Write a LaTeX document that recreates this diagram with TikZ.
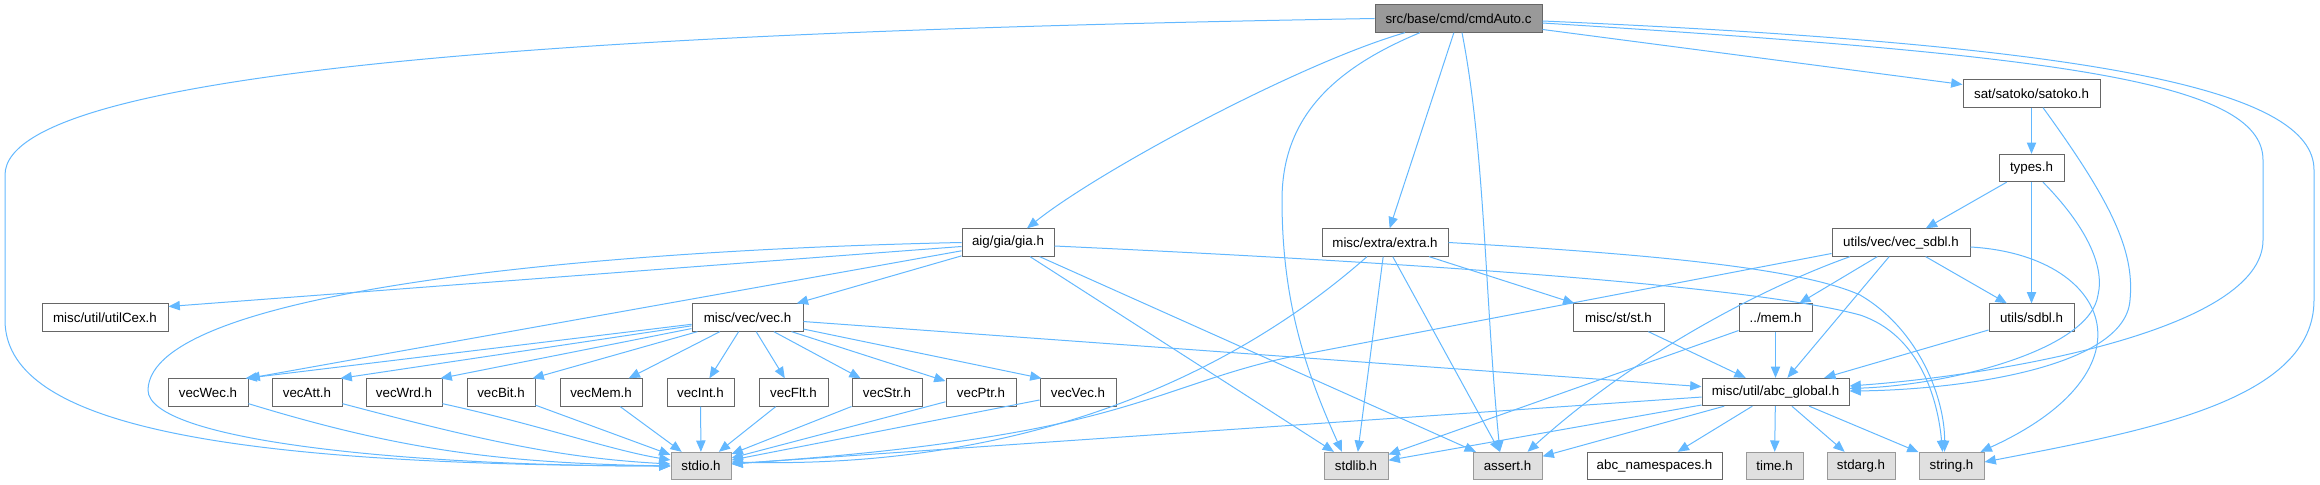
\documentclass[tikz,border=0pt]{standalone}
\usepackage{fontspec}
\setmainfont{Liberation Sans}
\usetikzlibrary{arrows.meta,calc}
\definecolor{edgec}{HTML}{63B8FF}
\definecolor{bordc}{HTML}{666666}
\definecolor{leafb}{HTML}{999999}
\definecolor{leaff}{HTML}{E0E0E0}
\definecolor{rootf}{HTML}{999999}
\begin{document}
\begin{tikzpicture}[x=0.75pt,y=-0.75pt,
  box/.style={draw=bordc, fill=white, line width=0.75pt, inner sep=0pt, minimum height=20.5pt, font=\fontsize{10}{12}\selectfont, text=black},
  leafbox/.style={box, draw=leafb, fill=leaff},
  rootbox/.style={box, fill=rootf},
  dep/.style={draw=edgec, line width=0.75pt, -{Triangle[length=8.5pt,width=7pt]}}]
\useasboundingbox (0,0) rectangle (2320,485);
% nodes
\node[rootbox, minimum width=125.25pt] (root) at (1458.5,18.5) {src/base/cmd/cmdAuto.c};
\node[box, minimum width=102.75pt] (satoko) at (2031.5,93.5) {sat/satoko/satoko.h};
\node[box, minimum width=48.75pt] (types) at (2031.5,168) {types.h};
\node[box, minimum width=69pt] (gia) at (1008,242.5) {aig/gia/gia.h};
\node[box, minimum width=94.5pt] (extra) at (1385,242.5) {misc/extra/extra.h};
\node[box, minimum width=103.5pt] (vecsdbl) at (1901,242.5) {utils/vec/vec\_sdbl.h};
\node[box, minimum width=94.5pt] (utilcex) at (105,317.5) {misc/util/utilCex.h};
\node[box, minimum width=83.25pt] (vec) at (747.5,317.5) {misc/vec/vec.h};
\node[box, minimum width=68.25pt] (st) at (1618.5,317.5) {misc/st/st.h};
\node[box, minimum width=54.75pt] (mem) at (1775.5,317.5) {../mem.h};
\node[box, minimum width=63.75pt] (sdbl) at (2031.5,317.5) {utils/sdbl.h};
\node[box, minimum width=60pt] (vecWec) at (208,392.5) {vecWec.h};
\node[box, minimum width=52.5pt] (vecAtt) at (307,392.5) {vecAtt.h};
\node[box, minimum width=57pt] (vecWrd) at (404,392.5) {vecWrd.h};
\node[box, minimum width=51pt] (vecBit) at (501,392.5) {vecBit.h};
\node[box, minimum width=61.5pt] (vecMem) at (601,392.5) {vecMem.h};
\node[box, minimum width=50.25pt] (vecInt) at (700.5,392.5) {vecInt.h};
\node[box, minimum width=51.75pt] (vecFlt) at (793.5,392.5) {vecFlt.h};
\node[box, minimum width=52.5pt] (vecStr) at (887,392.5) {vecStr.h};
\node[box, minimum width=52.5pt] (vecPtr) at (981,392.5) {vecPtr.h};
\node[box, minimum width=57pt] (vecVec) at (1078,392.5) {vecVec.h};
\node[box, minimum width=110.25pt] (abcglobal) at (1775.5,392) {misc/util/abc\_global.h};
\node[leafbox, minimum width=45pt] (stdio) at (701,466) {stdio.h};
\node[leafbox, minimum width=48pt] (stdlib) at (1356,466) {stdlib.h};
\node[leafbox, minimum width=51.75pt] (assert) at (1507.5,466) {assert.h};
\node[box, minimum width=101.25pt] (abcns) at (1654.5,466) {abc\_namespaces.h};
\node[leafbox, minimum width=42.75pt] (time) at (1774.5,466) {time.h};
\node[leafbox, minimum width=51pt] (stdarg) at (1861,466) {stdarg.h};
\node[leafbox, minimum width=48.75pt] (string) at (1951.5,466) {string.h};
% root edges
\draw[dep] (root.west) .. controls (700,30) and (5,60) .. (5,175) -- (5,320) .. controls (5,420) and (200,465) .. (stdio.west);
\draw[dep] ($(root.south)+(-53.5,0)$) .. controls (1300,63) and (1100,170) .. ($(gia.north)+(19,0)$);
\draw[dep] ($(root.south)+(-38.5,0)$) .. controls (1330,70) and (1282,120) .. (1282,200) .. controls (1282,300) and (1305,370) .. ($(stdlib.north)+(-14,0)$);
\draw[dep] (root) -- (extra);
\draw[dep] ($(root.south)+(3.5,0)$) .. controls (1485,150) and (1485,300) .. ($(assert.north)+(-7.5,0)$);
\draw[dep] (root) -- (satoko);
\draw[dep] ($(root.east)+(0,4.5)$) .. controls (2050,55) and (2263,80) .. (2263,160) -- (2263,240) .. controls (2263,330) and (2000,375) .. ($(abcglobal.east)+(0,-6)$);
\draw[dep] ($(root.east)+(0,2.5)$) .. controls (2100,45) and (2314,90) .. (2314,170) -- (2314,300) .. controls (2314,400) and (2150,430) .. ($(string.east)+(0,-4)$);
% satoko
\draw[dep] (satoko) -- (types);
\draw[dep] ($(satoko.south)+(11.5,0)$) .. controls (2110,200) and (2135,250) .. (2130,300) .. controls (2125,370) and (1950,390) .. ($(abcglobal.east)+(0,-1)$);
% types
\draw[dep] (types) -- (vecsdbl);
\draw[dep] (types) -- (sdbl);
\draw[dep] ($(types.south)+(11.5,0)$) .. controls (2085,225) and (2105,265) .. (2098,295) .. controls (2090,350) and (1950,385) .. ($(abcglobal.east)+(0,-3.5)$);
% gia
\draw[dep] ($(gia.west)+(0,4)$) -- ($(utilcex.east)+(0,-11)$);
\draw[dep] (gia.west) .. controls (600,250) and (150,290) .. (148,390) .. controls (148,440) and (400,466) .. (stdio.west);
\draw[dep] (gia) -- (vecWec.north east);
\draw[dep] (gia) -- (vec);
\draw[dep] (gia) -- (stdlib);
\draw[dep] (gia) -- (assert);
\draw[dep] ($(gia.east)+(0,3.5)$) .. controls (1400,262) and (1750,285) .. (1860,315) .. controls (1920,335) and (1938,400) .. ($(string.north)+(-9,0)$);
% extra
\draw[dep] ($(extra.south)+(-18,0)$) .. controls (1250,360) and (1050,470) .. ($(stdio.east)+(0,-4)$);
\draw[dep] (extra) -- (stdlib);
\draw[dep] (extra) -- (assert);
\draw[dep] (extra) -- (st);
\draw[dep] (extra.east) .. controls (1650,254) and (1800,268) .. (1860,295) .. controls (1920,330) and (1945,400) .. ($(string.north)+(-7,0)$);
% vec_sdbl
\draw[dep] ($(vecsdbl.west)+(0,11)$) -- (1300,355) .. controls (1200,374) and (1150,410) .. (1000,435) .. controls (900,452) and (800,459) .. ($(stdio.east)+(0,-2)$);
\draw[dep] ($(vecsdbl.south)+(-51,0)$) .. controls (1770,285) and (1640,350) .. ($(assert.north)+(20,0)$);
\draw[dep] (vecsdbl) -- (mem);
\draw[dep] (vecsdbl) -- (abcglobal);
\draw[dep] (vecsdbl) -- (sdbl);
\draw[dep] ($(vecsdbl.east)+(0,4.5)$) .. controls (2110,255) and (2160,370) .. ($(string.north east)+(-4,0)$);
% vec.h
\draw[dep] (vec) -- ($(vecWec.north east)+(-3,0)$);
\draw[dep] (vec) -- ($(vecAtt.north east)+(-2,0)$);
\draw[dep] (vec) -- ($(vecWrd.north east)+(-2,0)$);
\draw[dep] (vec) -- ($(vecBit.north east)+(-3,0)$);
\draw[dep] (vec) -- (vecMem);
\draw[dep] (vec) -- (vecInt);
\draw[dep] (vec) -- (vecFlt);
\draw[dep] (vec) -- (vecStr);
\draw[dep] (vec) -- (vecPtr);
\draw[dep] (vec) -- ($(vecVec.north west)+(2,0)$);
\draw[dep] (vec) -- (abcglobal);
% vecX -> stdio
\draw[dep] ($(vecWec.south east)+(0,-3)$) .. controls (400,450) and (500,463) .. (stdio.west);
\draw[dep] ($(vecAtt.south east)+(0,-3)$) .. controls (480,440) and (560,458) .. ($(stdio.west)+(0,-2)$);
\draw[dep] ($(vecWrd.south east)+(0,-3)$) .. controls (540,425) and (610,450) .. ($(stdio.west)+(0,-6)$);
\draw[dep] (vecBit) -- (stdio);
\draw[dep] (vecMem) -- (stdio);
\draw[dep] (vecInt) -- (stdio);
\draw[dep] (vecFlt) -- (stdio);
\draw[dep] (vecStr) -- (stdio);
\draw[dep] (vecPtr) -- (stdio);
\draw[dep] (vecVec) -- (stdio);
% st, mem, sdbl
\draw[dep] (st) -- (abcglobal);
\draw[dep] (mem) -- (abcglobal);
\draw[dep] (mem) -- (stdlib);
\draw[dep] (sdbl) -- (abcglobal);
% abc_global
\draw[dep] (abcglobal) -- (stdio);
\draw[dep] (abcglobal) -- (stdlib);
\draw[dep] (abcglobal) -- (assert);
\draw[dep] (abcglobal) -- (abcns);
\draw[dep] (abcglobal) -- (time);
\draw[dep] (abcglobal) -- (stdarg);
\draw[dep] (abcglobal) -- (string);
\end{tikzpicture}
\end{document}
